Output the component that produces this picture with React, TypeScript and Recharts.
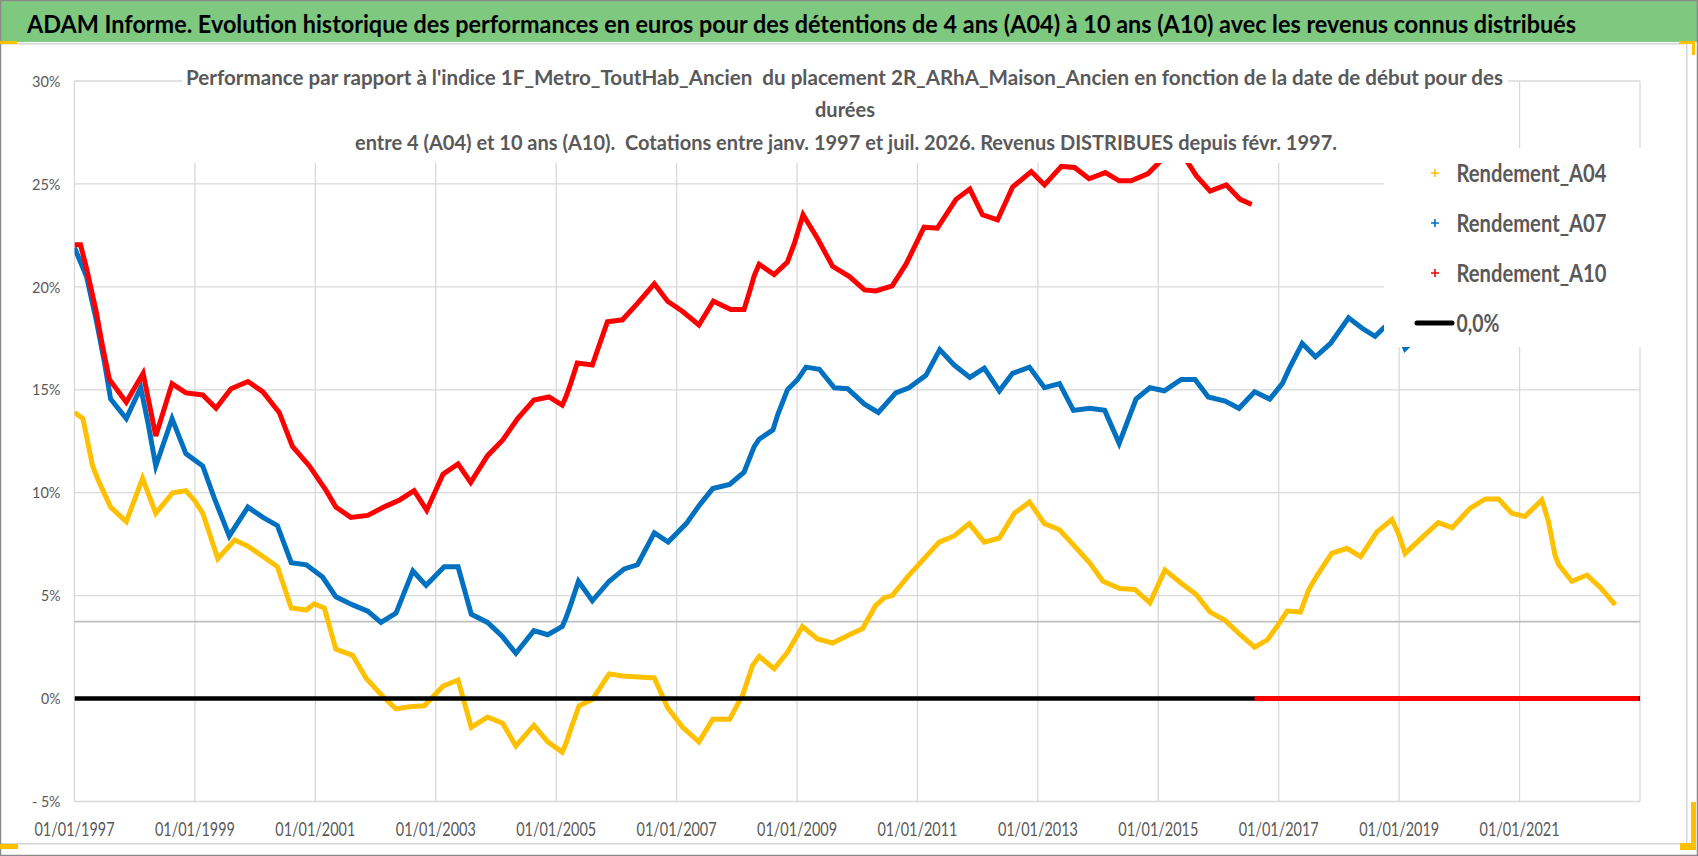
import React from "react";
import { LineChart, Line, XAxis, YAxis, CartesianGrid, ReferenceLine, Legend } from "recharts";

// decimal year -> performance in %
const A04: [number, number][] = [
  [1997.0, 13.9], [1997.14, 13.6], [1997.3, 11.3], [1997.41, 10.5], [1997.6, 9.3], [1997.86, 8.6],
  [1998.13, 10.7], [1998.35, 9.0], [1998.63, 10.0], [1998.85, 10.1], [1999.0, 9.6], [1999.13, 9.0],
  [1999.38, 6.8], [1999.66, 7.7], [1999.88, 7.4], [2000.13, 6.9], [2000.37, 6.4], [2000.6, 4.4],
  [2000.85, 4.3], [2000.98, 4.6], [2001.15, 4.4], [2001.34, 2.4], [2001.62, 2.1], [2001.84, 1.0],
  [2002.12, 0.1], [2002.34, -0.5], [2002.56, -0.4], [2002.81, -0.35], [2003.12, 0.6], [2003.37, 0.9],
  [2003.47, -0.15], [2003.59, -1.4], [2003.86, -0.9], [2004.11, -1.2], [2004.33, -2.3], [2004.63, -1.3],
  [2004.86, -2.1], [2005.1, -2.6], [2005.16, -2.2], [2005.24, -1.5], [2005.38, -0.35], [2005.6, -0.05],
  [2005.88, 1.2], [2006.1, 1.1], [2006.38, 1.05], [2006.63, 1.0], [2006.85, -0.45], [2007.1, -1.4],
  [2007.37, -2.1], [2007.6, -1.0], [2007.88, -1.0], [2008.1, 0.2], [2008.26, 1.6], [2008.37, 2.05],
  [2008.62, 1.45], [2008.84, 2.25], [2009.09, 3.5], [2009.34, 2.9], [2009.59, 2.7], [2009.87, 3.1],
  [2010.09, 3.4], [2010.3, 4.5], [2010.45, 4.9], [2010.58, 5.0], [2010.86, 6.0], [2011.11, 6.8],
  [2011.36, 7.6], [2011.61, 7.9], [2011.86, 8.5], [2012.11, 7.6], [2012.36, 7.8], [2012.61, 9.0],
  [2012.86, 9.55], [2013.11, 8.5], [2013.36, 8.2], [2013.61, 7.4], [2013.86, 6.6], [2014.08, 5.7],
  [2014.36, 5.35], [2014.61, 5.3], [2014.86, 4.65], [2015.11, 6.25], [2015.38, 5.6], [2015.63, 5.05],
  [2015.86, 4.2], [2016.11, 3.8], [2016.36, 3.1], [2016.6, 2.5], [2016.81, 2.85], [2016.97, 3.5],
  [2017.14, 4.25], [2017.36, 4.2], [2017.5, 5.3], [2017.64, 6.0], [2017.88, 7.05], [2018.13, 7.3],
  [2018.36, 6.9], [2018.63, 8.1], [2018.88, 8.7], [2018.99, 8.0], [2019.1, 7.05], [2019.41, 7.9],
  [2019.65, 8.55], [2019.88, 8.3], [2020.18, 9.25], [2020.43, 9.7], [2020.65, 9.7], [2020.87, 9.0],
  [2021.09, 8.85], [2021.37, 9.65], [2021.48, 8.6], [2021.59, 6.95], [2021.65, 6.5], [2021.87, 5.7],
  [2022.12, 6.0], [2022.34, 5.4], [2022.59, 4.55],
];

const A07: [number, number][] = [
  [1997.0, 21.9], [1997.2, 20.5], [1997.36, 18.4], [1997.5, 16.3], [1997.6, 14.55], [1997.86, 13.6],
  [1998.1, 15.1], [1998.22, 13.4], [1998.35, 11.3], [1998.62, 13.6], [1998.85, 11.9], [1999.13, 11.3],
  [1999.32, 9.75], [1999.57, 7.9], [1999.88, 9.3], [2000.13, 8.8], [2000.37, 8.4], [2000.6, 6.6],
  [2000.85, 6.5], [2001.12, 5.9], [2001.34, 4.95], [2001.62, 4.55], [2001.87, 4.25], [2002.09, 3.7],
  [2002.34, 4.15], [2002.62, 6.2], [2002.84, 5.5], [2003.14, 6.4], [2003.37, 6.4], [2003.59, 4.1],
  [2003.86, 3.7], [2004.11, 3.0], [2004.33, 2.2], [2004.63, 3.3], [2004.86, 3.1], [2005.1, 3.5],
  [2005.16, 3.9], [2005.24, 4.55], [2005.37, 5.7], [2005.6, 4.75], [2005.88, 5.7], [2006.13, 6.3],
  [2006.35, 6.5], [2006.63, 8.05], [2006.86, 7.6], [2007.16, 8.5], [2007.38, 9.4], [2007.6, 10.2],
  [2007.88, 10.4], [2008.12, 11.0], [2008.29, 12.25], [2008.37, 12.6], [2008.6, 13.05], [2008.68, 13.8],
  [2008.84, 15.0], [2009.01, 15.5], [2009.15, 16.1], [2009.37, 16.0], [2009.62, 15.1], [2009.84, 15.05],
  [2010.12, 14.3], [2010.35, 13.9], [2010.64, 14.85], [2010.86, 15.1], [2011.14, 15.7], [2011.37, 16.95],
  [2011.61, 16.2], [2011.87, 15.6], [2012.11, 16.05], [2012.36, 14.95], [2012.58, 15.8], [2012.86, 16.1],
  [2013.11, 15.1], [2013.36, 15.3], [2013.59, 14.0], [2013.86, 14.1], [2014.11, 14.0], [2014.35, 12.4],
  [2014.63, 14.55], [2014.86, 15.1], [2015.1, 14.95], [2015.38, 15.5], [2015.61, 15.5], [2015.83, 14.65],
  [2016.11, 14.45], [2016.34, 14.1], [2016.6, 14.9], [2016.85, 14.55], [2017.06, 15.3], [2017.17, 16.0],
  [2017.39, 17.25], [2017.61, 16.6], [2017.86, 17.25], [2018.16, 18.5], [2018.38, 18.0], [2018.6, 17.6],
  [2018.74, 18.0], [2018.9, 18.4], [2019.1, 17.0], [2019.3, 17.6], [2019.5, 17.9],
];

const A10: [number, number][] = [
  [1997.0, 22.05], [1997.1, 22.05], [1997.2, 20.9], [1997.36, 18.8], [1997.47, 17.05], [1997.58, 15.5],
  [1997.86, 14.4], [1998.14, 15.8], [1998.35, 12.75], [1998.62, 15.3], [1998.85, 14.85], [1999.13, 14.75],
  [1999.35, 14.1], [1999.6, 15.05], [1999.88, 15.4], [2000.13, 14.9], [2000.4, 13.9], [2000.62, 12.25],
  [2000.9, 11.3], [2001.18, 10.1], [2001.34, 9.3], [2001.59, 8.8], [2001.87, 8.9], [2002.17, 9.35],
  [2002.4, 9.65], [2002.64, 10.1], [2002.85, 9.15], [2003.12, 10.9], [2003.37, 11.4], [2003.58, 10.5],
  [2003.86, 11.8], [2004.11, 12.55], [2004.36, 13.6], [2004.63, 14.5], [2004.88, 14.65], [2005.1, 14.25],
  [2005.16, 14.65], [2005.24, 15.3], [2005.35, 16.3], [2005.6, 16.2], [2005.85, 18.3], [2006.1, 18.4],
  [2006.35, 19.2], [2006.63, 20.15], [2006.85, 19.3], [2007.1, 18.8], [2007.37, 18.15], [2007.61, 19.3],
  [2007.9, 18.9], [2008.12, 18.9], [2008.21, 19.75], [2008.29, 20.55], [2008.37, 21.1], [2008.62, 20.6],
  [2008.84, 21.2], [2008.96, 22.15], [2009.1, 23.5], [2009.34, 22.35], [2009.59, 21.0], [2009.87, 20.5],
  [2010.12, 19.85], [2010.31, 19.8], [2010.58, 20.05], [2010.81, 21.1], [2011.11, 22.9], [2011.33, 22.85],
  [2011.64, 24.25], [2011.87, 24.75], [2012.08, 23.5], [2012.33, 23.25], [2012.58, 24.85], [2012.89, 25.6],
  [2013.11, 24.95], [2013.39, 25.85], [2013.61, 25.8], [2013.85, 25.25], [2014.12, 25.55], [2014.35, 25.15],
  [2014.55, 25.15], [2014.83, 25.5], [2015.0, 26.0], [2015.25, 26.9], [2015.5, 26.0], [2015.63, 25.4],
  [2015.86, 24.65], [2016.13, 24.95], [2016.36, 24.25], [2016.55, 24.0],
];

// after the last known start date the sheet holds zeros
const A10_ZEROS: [number, number][] = [[2016.6, 0], [2022.98, 0]];
const ZERO_LINE: [number, number][] = [[1997, 0], [2023, 0]];

const YEAR_TICKS = [1997, 1999, 2001, 2003, 2005, 2007, 2009, 2011, 2013, 2015, 2017, 2019, 2021];
const PCT_TICKS = [-5, 0, 5, 10, 15, 20, 25, 30];
const AXIS_CROSS = 3.74;

const TITLE =
  "ADAM Informe. Evolution historique des performances en euros pour des détentions de 4 ans (A04) à 10 ans (A10) avec les revenus connus distribués";
const SUBTITLE = [
  "Performance par rapport à l'indice 1F_Metro_ToutHab_Ancien  du placement 2R_ARhA_Maison_Ancien en fonction de la date de début pour des",
  "durées",
  "entre 4 (A04) et 10 ans (A10).  Cotations entre janv. 1997 et juil. 2026. Revenus DISTRIBUES depuis févr. 1997.",
];

const FONT = "Lato, 'Open Sans', sans-serif";
const GREY = "#595959";

const pts = (rows: [number, number][]) => rows.map(([x, y]) => ({ x, y }));
const a10Data = [...pts(A10), { x: 2016.58, y: null }, ...pts(A10_ZEROS)];

const LEGEND = [
  { name: "Rendement_A04", color: "#FFC000", kind: "plus" },
  { name: "Rendement_A07", color: "#0070C0", kind: "plus" },
  { name: "Rendement_A10", color: "#FF0000", kind: "plus" },
  { name: "0,0%", color: "#000000", kind: "line" },
];

function LegendBox() {
  return (
    <svg width={270} height={199} style={{ display: "block", background: "#fff" }}>
      {LEGEND.map((s, i) => {
        const cy = 25 + i * 50;
        return (
          <g key={s.name}>
            {s.kind === "plus" ? (
              <path d={`M51 ${cy - 4}V${cy + 4}M47 ${cy}H55`} stroke={s.color} strokeWidth={1.6} />
            ) : (
              <line x1={33} x2={68} y1={cy} y2={cy} stroke={s.color} strokeWidth={5} strokeLinecap="round" />
            )}
            <text
              x={72.5}
              y={cy + 8.5}
              textLength={s.kind === "plus" ? 150 : 43}
              lengthAdjust="spacingAndGlyphs"
              fontFamily={FONT}
              fontWeight={700}
              fontSize={24}
              fill={GREY}
            >
              {s.name}
            </text>
          </g>
        );
      })}
    </svg>
  );
}

function XTick({ x, y, payload }: any) {
  return (
    <text x={x} y={y + 14} textAnchor="middle" textLength={80} lengthAdjust="spacingAndGlyphs" fontFamily={FONT} fontSize={19.5} fill={GREY}>
      {`01/01/${payload.value}`}
    </text>
  );
}

function YTick({ x, y, payload }: any) {
  const v = payload.value as number;
  const label = v < 0 ? `- ${-v}%` : `${v}%`;
  return (
    <text x={x} y={y + 5.7} textAnchor="end" textLength={label.length === 2 ? 19.5 : 28.5} lengthAdjust="spacingAndGlyphs" fontFamily={FONT} fontSize={16} fill={GREY}>
      {label}
    </text>
  );
}

const box = (s: React.CSSProperties): React.CSSProperties => ({ position: "absolute", ...s });

export default function App() {
  return (
    <div style={{ position: "absolute", left: 0, top: 0, width: 1698, height: 856, background: "#fff", overflow: "hidden" }}>
      <LineChart width={1698} height={856} margin={{ top: 81, right: 58, bottom: 0.5, left: 0.5 }}>
        <CartesianGrid stroke="#d9d9d9" strokeWidth={1.3} />
        <XAxis
          dataKey="x"
          type="number"
          domain={[1997, 2023]}
          allowDataOverflow
          ticks={YEAR_TICKS}
          height={54}
          axisLine={false}
          tickLine={false}
          tickSize={0}
          tickMargin={20}
          interval={0}
          tick={<XTick />}
        />
        <YAxis
          type="number"
          domain={[-5, 30]}
          ticks={PCT_TICKS}
          allowDataOverflow
          width={74}
          axisLine={false}
          tickLine={false}
          tickSize={0}
          tickMargin={14}
          interval={0}
          tick={<YTick />}
        />
        <ReferenceLine y={AXIS_CROSS} stroke="#bfbfbf" strokeWidth={1.6} />
        <Line data={pts(A04)} dataKey="y" name="Rendement_A04" type="linear" stroke="#FFC000" strokeWidth={5} dot={false} isAnimationActive={false} />
        <Line data={pts(A07)} dataKey="y" name="Rendement_A07" type="linear" stroke="#0070C0" strokeWidth={5} dot={false} isAnimationActive={false} />
        <Line data={pts(ZERO_LINE)} dataKey="y" name="0,0%" type="linear" stroke="#000000" strokeWidth={4.5} dot={false} isAnimationActive={false} />
        <Line data={a10Data} dataKey="y" name="Rendement_A10" type="linear" stroke="#FF0000" strokeWidth={5} dot={false} connectNulls={false} isAnimationActive={false} />
        <Legend
          layout="vertical"
          align="center"
          verticalAlign="middle"
          wrapperStyle={{ left: 1384, top: 148, width: 270, height: 199 }}
          content={() => <LegendBox />}
        />
      </LineChart>

      {/* white box behind the chart title, hides the grid like in Excel */}
      <div style={box({ left: 182, top: 58, width: 1326, height: 105, background: "#fff" })} />

      <svg width={1698} height={856} style={box({ left: 0, top: 0, pointerEvents: "none" })}>
        <rect x={1} y={1} width={1696} height={41} fill="#7ec87f" />
        <text
          transform="translate(27 33) scale(1 1.12)"
          textLength={1549}
          lengthAdjust="spacingAndGlyphs"
          fontFamily={FONT}
          fontWeight={700}
          fontSize={22}
          fill="#000"
        >
          {TITLE}
        </text>
        <text x={186} y={85} textLength={1317} lengthAdjust="spacingAndGlyphs" fontFamily={FONT} fontWeight={700} fontSize={20} fill={GREY} style={{ whiteSpace: "pre" }}>
          {SUBTITLE[0]}
        </text>
        <text x={845} y={117} textAnchor="middle" fontFamily={FONT} fontWeight={700} fontSize={20} fill={GREY}>
          {SUBTITLE[1]}
        </text>
        <text x={355} y={150} textLength={982} lengthAdjust="spacingAndGlyphs" fontFamily={FONT} fontWeight={700} fontSize={20} fill={GREY} style={{ whiteSpace: "pre" }}>
          {SUBTITLE[2]}
        </text>
        {/* chart area frame */}
        <rect x={0} y={43} width={1687} height={1.5} fill="#d4d4d4" />
        <rect x={1686} y={43} width={1.5} height={801} fill="#d4d4d4" />
        <rect x={0} y={843} width={1687} height={1.5} fill="#d4d4d4" />
        <rect x={0.5} y={0.5} width={1697} height={855} fill="none" stroke="#8a8a8a" strokeWidth={1.5} />
        {/* selection handles */}
        <rect x={0} y={41} width={17} height={3} fill="#FFC000" />
        <rect x={1679} y={41} width={16} height={3} fill="#FFC000" />
        <rect x={1692} y={41} width={3} height={14} fill="#FFC000" />
        <rect x={0} y={844} width={18} height={5} fill="#FFC000" />
        <rect x={1691} y={802} width={5} height={48} fill="#FFC000" />
        <rect x={1680} y={843} width={16} height={7} fill="#FFC000" />
      </svg>
    </div>
  );
}
